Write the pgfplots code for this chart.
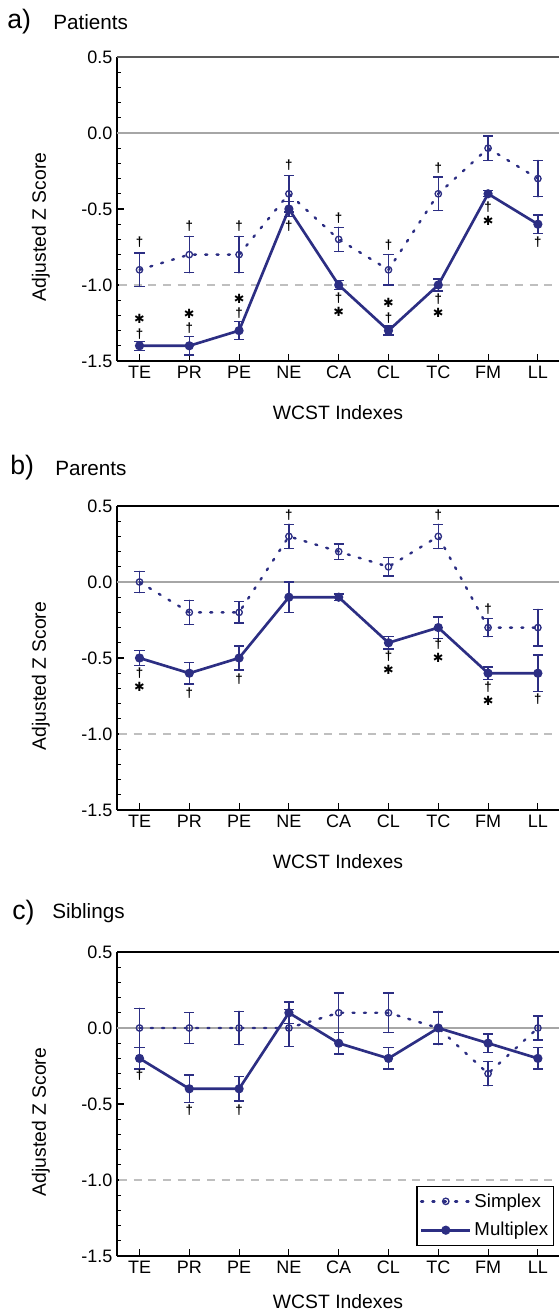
\documentclass[border=0pt]{standalone}
\usepackage{fontspec}
\setmainfont{Liberation Sans}
\newfontfamily\symfont{DejaVu Sans}
\usepackage{pgfplots}
\pgfplotsset{compat=1.18}

\definecolor{navy}{RGB}{44,46,131}

% 1 px of the reference = 0.75pt
\pgfplotsset{
  wcst/.style={
    scale only axis, width=331.5pt, height=228pt,
    anchor=south west,
    xmin=0.548, xmax=9.424, ymin=-1.5, ymax=0.5,
    axis x line*=bottom, axis y line*=left,
    axis line style={black, line width=1.2pt},
    xtick={1,...,9}, xticklabels={TE,PR,PE,NE,CA,CL,TC,FM,LL},
    ytick={-1.5,-1,-0.5,0,0.5}, yticklabels={-1.5,-1.0,-0.5,0.0,0.5},
    minor y tick num=4,
    tick align=inside, major tick length=5pt, minor tick length=3pt,
    tick style={black, line width=0.8pt},
    ticklabel style={font=\fontsize{13.5}{15}\selectfont},
    xlabel={WCST Indexes}, ylabel={Adjusted Z Score},
    label style={font=\fontsize{14.5}{17}\selectfont},
    xlabel style={at={(axis description cs:0.5,-0.171)}, anchor=center},
    ylabel style={at={(axis description cs:-0.172,0.441)}, anchor=center},
    legend image code/.code={\draw[mark repeat=2, mark phase=2, ##1]
      plot coordinates {(0cm,0cm) (0.65cm,0cm) (1.3cm,0cm)};},
  },
  simplex/.style={navy, line width=1.8pt, dash pattern=on 1.5pt off 7pt,
    line cap=round, mark=o, mark size=2.4pt,
    mark options={solid, line width=1pt, fill=white},
    error bars/.cd, y dir=both, y explicit,
    error bar style={solid, line width=1pt, navy},
    error mark options={rotate=90, mark size=3.8pt, line width=1pt, navy, solid}},
  multiplex/.style={navy, line width=2pt, solid, mark=*, mark size=2.4pt,
    mark options={solid},
    error bars/.cd, y dir=both, y explicit,
    error bar style={solid, line width=1pt, navy},
    error mark options={rotate=90, mark size=3.8pt, line width=1pt, navy, solid}},
  refline/.style={gray!70, line width=0.8pt, forget plot},
  dashline/.style={gray!50, line width=0.9pt, dash pattern=on 6pt off 5pt, forget plot},
}
\tikzset{
  dg/.style={font=\bfseries\fontsize{10}{10}\selectfont, inner sep=0pt},
  st/.style={font=\symfont\fontsize{9.5}{9.5}\selectfont, inner sep=0pt},
  ttl/.style={anchor=west, inner sep=0pt, font=\fontsize{15.5}{18}\selectfont},
  lett/.style={anchor=west, inner sep=0pt, font=\fontsize{20}{22}\selectfont},
}

\begin{document}
\begin{tikzpicture}[x=0.75pt, y=0.75pt]

% ---------- a) Patients
\begin{axis}[wcst, at={(87.75pt,715.5pt)}]
\addplot[refline] coordinates {(0,0) (10,0)};
\addplot[dashline] coordinates {(0,-1) (10,-1)};
\addplot[simplex] coordinates {
  (1,-0.9) +- (0,0.11) (2,-0.8) +- (0,0.12) (3,-0.8) +- (0,0.12)
  (4,-0.4) +- (0,0.12) (5,-0.7) +- (0,0.08) (6,-0.9) +- (0,0.10)
  (7,-0.4) +- (0,0.11) (8,-0.1) +- (0,0.08) (9,-0.3) +- (0,0.12)};
\addplot[multiplex] coordinates {
  (1,-1.4) +- (0,0.03) (2,-1.4) +- (0,0.06) (3,-1.3) +- (0,0.06)
  (4,-0.5) +- (0,0.05) (5,-1.0) +- (0,0.03) (6,-1.3) +- (0,0.03)
  (7,-1.0) +- (0,0.04) (8,-0.4) +- (0,0.02) (9,-0.6) +- (0,0.06)};
% simplex daggers
\node[dg] at (axis cs:1,-0.72) {†};
\node[dg] at (axis cs:2,-0.61) {†};
\node[dg] at (axis cs:3,-0.61) {†};
\node[dg] at (axis cs:4,-0.21) {†};
\node[dg] at (axis cs:5,-0.56) {†};
\node[dg] at (axis cs:6,-0.74) {†};
\node[dg] at (axis cs:7,-0.23) {†};
% multiplex marks
\node[dg] at (axis cs:1,-1.32) {†}; \node[st] at (axis cs:1,-1.225) {✱};
\node[dg] at (axis cs:2,-1.285) {†}; \node[st] at (axis cs:2,-1.19) {✱};
\node[dg] at (axis cs:3,-1.185) {†}; \node[st] at (axis cs:3,-1.09) {✱};
\node[dg] at (axis cs:4,-0.61) {†};
\node[dg] at (axis cs:5,-1.085) {†}; \node[st] at (axis cs:5,-1.175) {✱};
\node[dg] at (axis cs:6,-1.215) {†}; \node[st] at (axis cs:6,-1.12) {✱};
\node[dg] at (axis cs:7,-1.095) {†}; \node[st] at (axis cs:7,-1.185) {✱};
\node[dg] at (axis cs:8,-0.485) {†}; \node[st] at (axis cs:8,-0.575) {✱};
\node[dg] at (axis cs:9,-0.72) {†};
\draw[gray!70!black, line width=1pt] (rel axis cs:0,1) -- (rel axis cs:1,1);
\end{axis}
\node[lett] at (7,1293) {a)};
\node[ttl] at (53,1293) {Patients};

% ---------- b) Parents
\begin{axis}[wcst, at={(87.75pt,378.75pt)}]
\addplot[refline] coordinates {(0,0) (10,0)};
\addplot[dashline] coordinates {(0,-1) (10,-1)};
\addplot[simplex] coordinates {
  (1,0.0) +- (0,0.07) (2,-0.2) +- (0,0.08) (3,-0.2) +- (0,0.07)
  (4,0.3) +- (0,0.08) (5,0.2) +- (0,0.05) (6,0.1) +- (0,0.06)
  (7,0.3) +- (0,0.08) (8,-0.3) +- (0,0.06) (9,-0.3) +- (0,0.12)};
\addplot[multiplex] coordinates {
  (1,-0.5) +- (0,0.05) (2,-0.6) +- (0,0.07) (3,-0.5) +- (0,0.08)
  (4,-0.1) +- (0,0.10) (5,-0.1) +- (0,0.02) (6,-0.4) +- (0,0.04)
  (7,-0.3) +- (0,0.07) (8,-0.6) +- (0,0.04) (9,-0.6) +- (0,0.12)};
\node[dg] at (axis cs:4,0.44) {†};
\node[dg] at (axis cs:7,0.44) {†};
\node[dg] at (axis cs:8,-0.18) {†};
\node[dg] at (axis cs:1,-0.60) {†}; \node[st] at (axis cs:1,-0.69) {✱};
\node[dg] at (axis cs:2,-0.73) {†};
\node[dg] at (axis cs:3,-0.64) {†};
\node[dg] at (axis cs:6,-0.49) {†}; \node[st] at (axis cs:6,-0.58) {✱};
\node[dg] at (axis cs:7,-0.41) {†}; \node[st] at (axis cs:7,-0.50) {✱};
\node[dg] at (axis cs:8,-0.69) {†}; \node[st] at (axis cs:8,-0.78) {✱};
\node[dg] at (axis cs:9,-0.77) {†};
\draw[black, line width=1.2pt] (rel axis cs:0,1) -- (rel axis cs:1,1);
\end{axis}
\node[lett] at (10,847) {b)};
\node[ttl] at (55,847) {Parents};

% ---------- c) Siblings
\begin{axis}[wcst, at={(87.75pt,44.25pt)},
  xlabel style={at={(axis description cs:0.5,-0.15)}},
  legend cell align=left,
  legend style={at={(0.989,0.033)}, anchor=south east, draw=black,
    line width=1pt, font=\fontsize{14}{15}\selectfont,
    inner xsep=2pt, inner ysep=3.5pt, row sep=6pt}]
\addplot[refline] coordinates {(0,0) (10,0)};
\addplot[dashline] coordinates {(0,-1) (10,-1)};
\addplot[simplex] coordinates {
  (1,0.0) +- (0,0.13) (2,0.0) +- (0,0.10) (3,0.0) +- (0,0.11)
  (4,0.0) +- (0,0.12) (5,0.1) +- (0,0.13) (6,0.1) +- (0,0.13)
  (7,0.0) +- (0,0.11) (8,-0.3) +- (0,0.08) (9,0.0) +- (0,0.08)};
\addplot[multiplex] coordinates {
  (1,-0.2) +- (0,0.07) (2,-0.4) +- (0,0.09) (3,-0.4) +- (0,0.08)
  (4,0.1) +- (0,0.07) (5,-0.1) +- (0,0.07) (6,-0.2) +- (0,0.07)
  (7,0.0) +- (0,0.10) (8,-0.1) +- (0,0.06) (9,-0.2) +- (0,0.07)};
\legend{Simplex, Multiplex}
\node[dg] at (axis cs:1,-0.31) {†};
\node[dg] at (axis cs:2,-0.54) {†};
\node[dg] at (axis cs:3,-0.54) {†};
\draw[black, line width=1.2pt] (rel axis cs:0,1) -- (rel axis cs:1,1);
\end{axis}
\node[lett] at (12,402) {c)};
\node[ttl] at (52,402) {Siblings};

\pgfresetboundingbox
\useasboundingbox (0,0) rectangle (559,1315);
\end{tikzpicture}
\end{document}
